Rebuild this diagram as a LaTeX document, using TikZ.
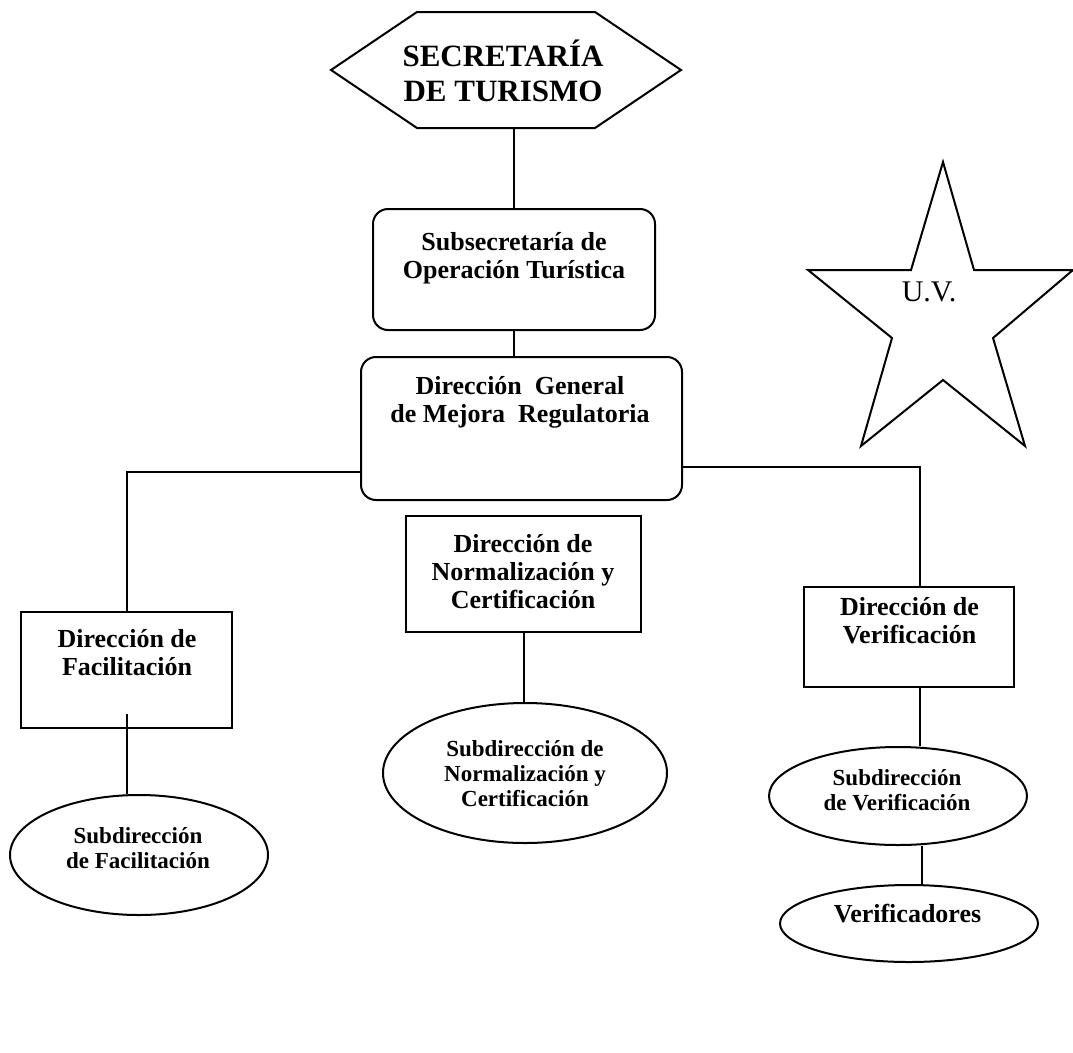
\documentclass[tikz,border=0pt]{standalone}
\usepackage{fontspec}
\setmainfont{Liberation Serif}
\usetikzlibrary{shapes.geometric,shapes.symbols,calc}

\tikzset{
  box/.style={draw,line width=2pt,inner sep=0pt},
  rbox/.style={box,rounded corners=15pt},
  oval/.style={box,ellipse},
  lbl/.style={align=center,font=\bfseries\fontsize{26}{28}\selectfont},
  slbl/.style={align=center,font=\bfseries\fontsize{23}{25}\selectfont},
}

\begin{document}
\begin{tikzpicture}[x=1pt,y=-1pt,line width=2pt]
\useasboundingbox (0,0) rectangle (1073,1052);

% cajas
\node[box,signal,signal to=east and west,signal pointer angle=68,minimum width=350,minimum height=116] (sec) at (506,70) {};
\node[rbox,minimum width=282,minimum height=121] (sub) at (514,269.5) {};
\node[rbox,minimum width=321,minimum height=143] (dg) at (521.5,428.5) {};
\node[box,minimum width=211,minimum height=116] (fac) at (126.5,670) {};
\node[box,minimum width=235,minimum height=116] (norm) at (523.5,574) {};
\node[box,minimum width=210,minimum height=100] (ver) at (909,637) {};
\node[oval,minimum width=258,minimum height=120] (sfac) at (139,855) {};
\node[oval,minimum width=284,minimum height=140] (snorm) at (525,773) {};
\node[oval,minimum width=258,minimum height=98] (sver) at (898,796) {};
\node[oval,minimum width=258,minimum height=77] (verif) at (909,923.5) {};

% textos
\node[align=center,font=\bfseries\fontsize{31}{35}\selectfont] (secT) at (503,70.5) {SECRETARÍA\\DE TURISMO};
\node[lbl] (subT) at (514,258) {Subsecretaría de\\Operación Turística};
\node[lbl] (dgT) at (520,402) {Dirección\ \ General\\de Mejora\ \ Regulatoria};
\node[lbl] (normT) at (523,571.5) {Dirección de\\Normalización y\\Certificación};
\node[lbl] (facT) at (127,653) {Dirección de\\Facilitación};
\node[lbl] (verT) at (909.5,621) {Dirección de\\Verificación};
\node[lbl] (verifT) at (907.5,914) {Verificadores};
\node[slbl] (snormT) at (525,773.5) {Subdirección de\\Normalización y\\Certificación};
\node[slbl] (sfacT) at (138,848) {Subdirección\\de Facilitación};
\node[slbl] (sverT) at (897,790.5) {Subdirección\\de Verificación};

% estrella
\draw (943,162) -- (974,270) -- (1073,270) -- (993,338) -- (1025,446) -- (943,380)
  -- (861,446) -- (892,338) -- (808,270) -- (911,270) -- cycle;
\node[font=\fontsize{30}{32}\selectfont] (uv) at (929,292) {U.V.};

% lineas
\draw (sub.north) -- (sub.north |- sec.south);
\draw (sub.south) -- (sub.south |- dg.north);
\draw (dg.west) ++(0,43.5) -| (fac.north);
\draw (dg.east) ++(0,38.5) -| ($(ver.north)+(11,0)$);
\draw ($(fac.south)+(0,-15)$) -- (fac.south |- sfac.north);
\draw (norm.south) -- (norm.south |- snorm.north);
\draw ($(ver.south)+(11,0)$) -- ($(sver.north)+(22,0)$);
\draw ($(sver.south)+(24,0)$) -- ($(verif.north)+(13,0)$);
\end{tikzpicture}
\end{document}
